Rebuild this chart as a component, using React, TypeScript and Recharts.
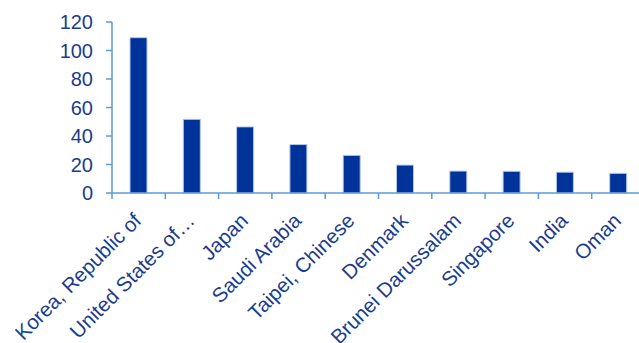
import React from "react";
import { BarChart, Bar, XAxis, YAxis } from "recharts";

const countries = [
  "Korea, Republic of",
  "United States of…",
  "Japan",
  "Saudi Arabia",
  "Taipei, Chinese",
  "Denmark",
  "Brunei Darussalam",
  "Singapore",
  "India",
  "Oman",
];
const values = [109, 51.7, 46.4, 34, 26.4, 19.6, 15.4, 15.2, 14.6, 13.8];
const yTicks = [0, 20, 40, 60, 80, 100, 120];

const data = countries.map((name, i) => ({ name, value: values[i] }));

const AXIS = "#5b9bd5";
const TEXT = "#1a3d8f";
const FONT = "'Liberation Sans', Arial, sans-serif";

const CategoryTick = (props: any) => {
  const { x, y, payload } = props;
  const half = payload && typeof payload.offset === "number" ? payload.offset : 0;
  const bx = x - half;
  return (
    <g>
      <line x1={bx} y1={y} x2={bx} y2={y + 6} stroke={AXIS} strokeWidth={1.5} />
      <text
        transform={`translate(${x + 4},${y + 29}) rotate(-45)`}
        textAnchor="end"
        fill={TEXT}
        fontSize={20.5}
        fontFamily={FONT}
      >
        {payload.value}
      </text>
    </g>
  );
};

export default function App() {
  return (
    <div
      style={{
        position: "absolute",
        left: 0,
        top: 0,
        width: 639,
        height: 343,
        overflow: "hidden",
        background: "#ffffff",
      }}
    >
      <BarChart
        width={646}
        height={343}
        data={data}
        margin={{ top: 22, right: 1, left: 0, bottom: 0 }}
      >
        <YAxis
          width={112}
          domain={[0, 120]}
          ticks={yTicks}
          interval={0}
          tickSize={6}
          tickMargin={13}
          axisLine={{ stroke: AXIS, strokeWidth: 1.5 }}
          tickLine={{ stroke: AXIS, strokeWidth: 1.5 }}
          tick={{ fill: TEXT, fontSize: 20, fontFamily: FONT }}
        />
        <XAxis
          dataKey="name"
          height={150}
          interval={0}
          tickSize={0}
          tickMargin={0}
          tickLine={false}
          axisLine={{ stroke: AXIS, strokeWidth: 1.5 }}
          tick={<CategoryTick />}
        />
        <Bar
          dataKey="value"
          fill="#003399"
          stroke="#b4c7e7"
          strokeWidth={1}
          barSize={17}
          isAnimationActive={false}
        />
      </BarChart>
    </div>
  );
}
